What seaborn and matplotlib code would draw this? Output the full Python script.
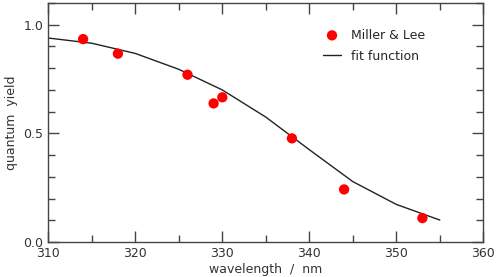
import numpy as np
import pandas as pd
import matplotlib
matplotlib.use("Agg")
import matplotlib.pyplot as plt
import seaborn as sns
from matplotlib.ticker import MultipleLocator

# Datos medidos (Miller & Lee)
longitud_onda = [314, 318, 326, 329, 330, 338, 344, 353]
rendimiento = [0.934, 0.867, 0.770, 0.638, 0.666, 0.477, 0.242, 0.110]

# Funcion de ajuste
ajuste_x = [310, 315, 320, 325, 330, 335, 340, 345, 350, 355]
ajuste_y = [0.939, 0.915, 0.868, 0.795, 0.700, 0.575, 0.425, 0.278, 0.173, 0.101]

medidas = pd.DataFrame({"wavelength": longitud_onda, "yield": rendimiento})
ajuste = pd.DataFrame({"wavelength": ajuste_x, "yield": ajuste_y})

sns.set_style("ticks")
plt.rcParams["font.family"] = ["DejaVu Sans"]

fig = plt.figure(figsize=(5, 2.77), dpi=100)
ax = fig.add_axes([0.0966, 0.1264, 0.87, 0.8626])

sns.scatterplot(data=medidas, x="wavelength", y="yield", color="#ff0000", s=55,
                edgecolor="none", label="Miller & Lee", ax=ax, zorder=3)
sns.lineplot(data=ajuste, x="wavelength", y="yield", color="#222222", lw=1,
             label="fit function", ax=ax)

ax.set_xlim(310, 360)
ax.set_ylim(0, 1.1)
ax.xaxis.set_major_locator(MultipleLocator(10))
ax.xaxis.set_minor_locator(MultipleLocator(5))
ax.yaxis.set_major_locator(MultipleLocator(0.5))
ax.yaxis.set_minor_locator(MultipleLocator(0.1))
ax.yaxis.set_major_formatter(matplotlib.ticker.FormatStrFormatter("%.1f"))
ax.tick_params(which="both", direction="in", top=True, right=True, color="#444444",
               labelsize=9, labelcolor="#333333")
ax.tick_params(which="major", length=8, width=1)
ax.tick_params(which="minor", length=5, width=1)
for s in ax.spines.values():
    s.set_color("#444444")
    s.set_linewidth(1)

ax.set_xlabel("wavelength  /  nm", fontsize=9, color="#333333", labelpad=2)
ax.set_ylabel("quantum  yield", fontsize=9, color="#333333", labelpad=4)
ax.legend(loc="upper right", frameon=False, fontsize=9, bbox_to_anchor=(0.893, 0.94),
          handlelength=1.5, labelspacing=0.65)

plt.savefig("out.png", dpi=100)
